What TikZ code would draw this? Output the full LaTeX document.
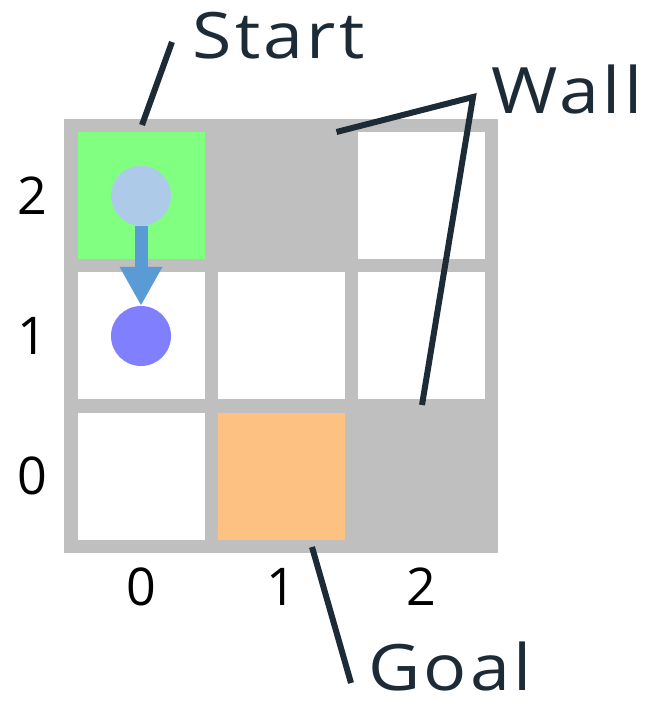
\documentclass[tikz,border=0pt]{standalone}
\usepackage{fontspec}
\setmainfont{Open Sans}
\newfontfamily\tagfont[FakeStretch=1.12, LetterSpace=5]{Open Sans}
\usepackage{xcolor}
\usetikzlibrary{arrows.meta}

\definecolor{wallgray}{HTML}{BFBFBF}
\definecolor{startgreen}{HTML}{80FF80}
\definecolor{goalorange}{HTML}{FDC182}
\definecolor{agentblue}{HTML}{ADCBE8}
\definecolor{stepblue}{HTML}{5B9BD5}
\definecolor{nextpurple}{HTML}{8080FF}
\definecolor{ink}{HTML}{1C2B36}

\tikzset{
    cellbox/.style = {inner sep=0pt, minimum size=127pt},
    token/.style = {circle, inner sep=0pt, minimum size=60pt},
    tag/.style = {ink, inner sep=0pt, font=\tagfont\fontsize{64}{64}\selectfont},
    coord/.style = {black, inner sep=0pt, font=\fontsize{52}{52}\selectfont},
    leader/.style = {ink, line width=6pt}
}

\begin{document}
\begin{tikzpicture}[x=1pt, y=-1pt]
        \useasboundingbox (0,0) rectangle (646,704);

        % grid lines and the two wall cells
        \fill[wallgray] (64.3,119) rectangle (498.3,552.7);

        % free cells (col/row)
        \foreach \c/\r in {0/1, 0/0, 1/1, 2/2, 2/1}
            \node[cellbox, fill=white] (cell\c\r) at (141+140.3*\c, 476-140.3*\r) {};
        \node[cellbox, fill=startgreen] (cell02) at (141, 195.7) {};
        \node[cellbox, fill=goalorange] (cell10) at (281.3, 476) {};

        % agent and its move
        \node[token, fill=agentblue] (agent) at (141, 195.7) {};
        \node[token, fill=nextpurple] (next) at (141, 336) {};
        \draw[stepblue, line width=13pt, -{Triangle[width=40pt, length=39pt]}]
            (agent.south) -- (next.north);

        % axis numbers
        \foreach \r in {0,1,2}
            \node[coord] (row\r) at (32, 476-140.3*\r) {\r};
        \foreach \c in {0,1,2}
            \node[coord] (col\c) at (141+140.3*\c, 586.5) {\c};

        % labels with leader lines
        \node[tag, anchor=base] (start) at (278.5, 58) {Start};
        \node[tag, anchor=base] (wall) at (567, 113) {Wall};
        \node[tag, anchor=base] (goal) at (450, 690) {Goal};

        \coordinate (startA) at (172, 42);
        \coordinate (startB) at (142, 125);
        \coordinate (wallA) at (336.5, 132);
        \coordinate (wallK) at (473, 97);
        \coordinate (wallB) at (422, 405);
        \coordinate (goalA) at (312, 547);
        \coordinate (goalB) at (351, 683);

        \draw[leader] (startA) -- (startB);
        \draw[leader] (wallA) -- (wallK) -- (wallB);
        \draw[leader] (goalA) -- (goalB);
\end{tikzpicture}
\end{document}
